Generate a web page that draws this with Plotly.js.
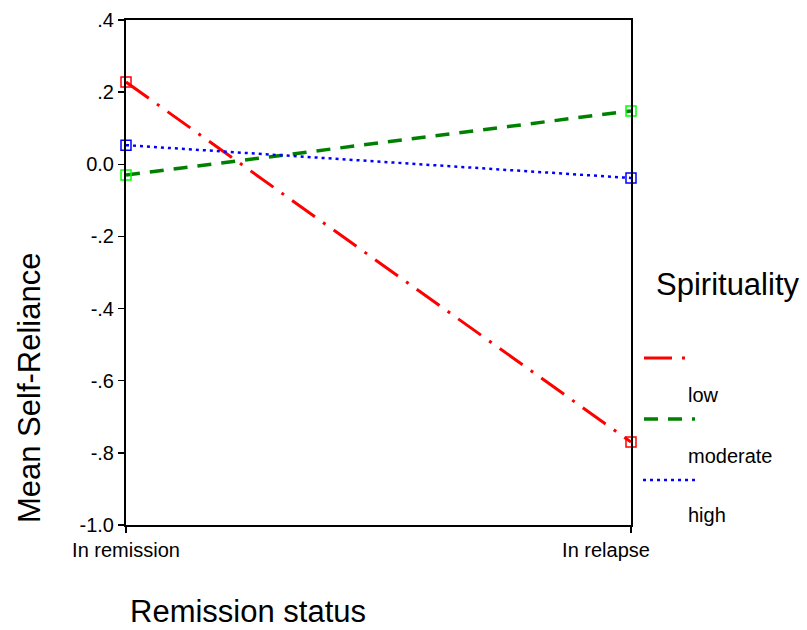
<!DOCTYPE html>
<html>
<head>
<meta charset="utf-8">
<script src="https://cdn.plot.ly/plotly-3.0.1.min.js"></script>
<style>html,body{margin:0;padding:0;background:#fff;}#chart{width:807px;height:630px;}</style>
</head>
<body>
<div id="chart"></div>
<script>
// ---- data ----
var categories = ["In remission", "In relapse"];
var seriesNames = ["low", "moderate", "high"];
var lowValues = [0.228, -0.770];
var moderateValues = [-0.030, 0.148];
var highValues = [0.053, -0.038];
var yTickVals = [0.4, 0.2, 0.0, -0.2, -0.4, -0.6, -0.8, -1.0];
var yTickText = [".4", ".2", "0.0", "-.2", "-.4", "-.6", "-.8", "-1.0"];
var lineColors = ["#ff0000", "#008000", "#0000ff"];
var markerColors = ["#ff0000", "#00ff00", "#0000ff"];
var dashes = ["28px,10px,3px,10px", "14px,10px", "3px,4px"];
var widths = [3, 3.5, 2.5];

var allValues = [lowValues, moderateValues, highValues];
var xIdx = categories.map(function (c, i) { return i; });
// last label is pushed left to stay inside the page, as in the original
var xTickText = categories.map(function (c, i) {
  return i === categories.length - 1 ? c + "&nbsp;&nbsp;&nbsp;&nbsp;&nbsp;&nbsp;&nbsp;&nbsp;&nbsp;" : c;
});

var traces = allValues.map(function (vals, k) {
  return {
    type: "scatter",
    mode: "lines+markers",
    name: seriesNames[k],
    x: xIdx,
    y: vals,
    cliponaxis: false,
    showlegend: false,
    line: { color: lineColors[k], width: widths[k], dash: dashes[k] },
    marker: { symbol: "square-open", size: 10, color: markerColors[k], line: { width: 1.5, color: markerColors[k] } }
  };
});

// manual legend (SPSS style: sample line above, label below)
var legX0 = [1.0257, 1.0257, 1.0238];
var legX1 = [1.111, 1.1267, 1.1267];
var legY = [0.3307, 0.2099, 0.0891];
var labY = [0.2574, 0.1366, 0.0198];
var shapes = seriesNames.map(function (n, k) {
  return {
    type: "line", xref: "paper", yref: "paper",
    x0: legX0[k], x1: legX1[k], y0: legY[k], y1: legY[k],
    line: { color: lineColors[k], width: widths[k], dash: dashes[k] }
  };
});
var font = "Arial, 'Liberation Sans', sans-serif";
var annotations = seriesNames.map(function (n, k) {
  return {
    text: n, xref: "paper", yref: "paper", x: 1.109, y: labY[k],
    xanchor: "left", yanchor: "middle", showarrow: false,
    font: { family: font, size: 20, color: "#000" }
  };
});
annotations.push({
  text: "Spirituality", xref: "paper", yref: "paper", x: 1.046, y: 0.4772,
  xanchor: "left", yanchor: "middle", showarrow: false,
  font: { family: font, size: 31, color: "#000" }
});
annotations.push({
  text: "Mean Self-Reliance", xref: "paper", yref: "paper", x: -0.190, y: 0.2713,
  xanchor: "center", yanchor: "middle", textangle: -90, showarrow: false,
  font: { family: font, size: 31, color: "#000" }
});
annotations.push({
  text: "Remission status", xref: "paper", yref: "paper", x: 0.2416, y: -0.172,
  xanchor: "center", yanchor: "middle", showarrow: false, borderpad: 0,
  font: { family: font, size: 31, color: "#000" }
});

var layout = {
  width: 807, height: 630,
  margin: { l: 126, r: 176, t: 20, b: 105, pad: 0 },
  paper_bgcolor: "#fff", plot_bgcolor: "#fff",
  showlegend: false,
  font: { family: font, color: "#000" },
  xaxis: {
    range: [0, 1], tickvals: xIdx, ticktext: xTickText,
    showgrid: false, zeroline: false,
    showline: true, linecolor: "#000", linewidth: 2, mirror: true,
    ticks: "outside", ticklen: 6, tickwidth: 1.5, tickcolor: "#000",
    tickfont: { family: font, size: 20, color: "#000" }
  },
  yaxis: {
    range: [-1.0, 0.4], tickvals: yTickVals, ticktext: yTickText,
    showgrid: false, zeroline: false,
    showline: true, linecolor: "#000", linewidth: 2, mirror: true,
    ticks: "outside", ticklen: 6, tickwidth: 1.5, tickcolor: "#000",
    tickfont: { family: font, size: 20, color: "#000" }
  },
  shapes: shapes,
  annotations: annotations
};

Plotly.newPlot("chart", traces, layout, { displayModeBar: false, staticPlot: true });
</script>
</body>
</html>
